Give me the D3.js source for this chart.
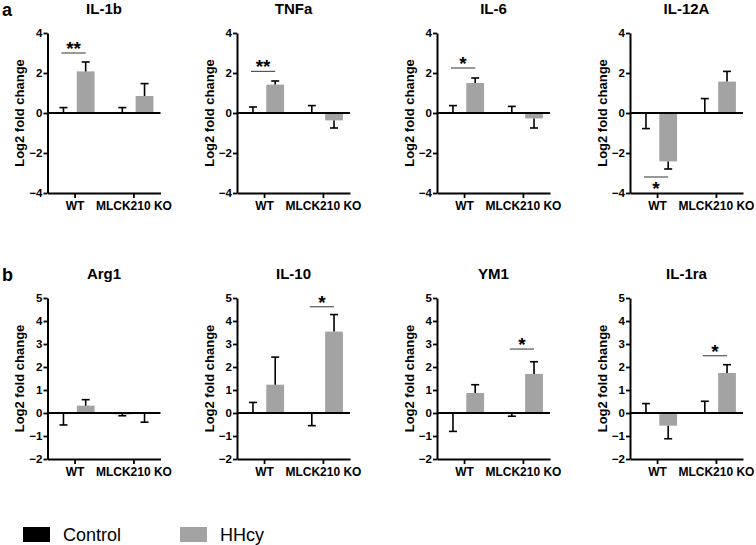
<!DOCTYPE html>
<html>
<head>
<meta charset="utf-8">
<script src="https://cdn.jsdelivr.net/npm/d3@7"></script>
<style>
  body { margin: 0; background: #fff; }
  text { font-family: "Liberation Sans", Arial, sans-serif; }
</style>
</head>
<body>
<script>
// genes, top row (a) then bottom row (b)
const genes = ["IL-1b", "TNFa", "IL-6", "IL-12A", "Arg1", "IL-10", "YM1", "IL-1ra"];
const genotypes = ["WT", "MLCK210 KO"];
const groups = ["Control", "HHcy"];

// [WT, KO] per gene, log2 fold change
const controlMean = [[0, 0], [0, 0], [0, 0], [0, 0], [0, -0.05], [0, 0], [0, -0.03], [0, 0]];
const controlErrEnd = [[0.27, 0.27], [0.3, 0.37], [0.37, 0.33], [-0.78, 0.72], [-0.52, -0.12], [0.46, -0.55], [-0.8, -0.14], [0.41, 0.51]];
const hhcyMean = [[2.08, 0.85], [1.42, -0.37], [1.5, -0.27], [-2.42, 1.57], [0.32, -0.02], [1.23, 3.54], [0.87, 1.7], [-0.55, 1.74]];
const hhcyErrEnd = [[2.55, 1.47], [1.6, -0.75], [1.75, -0.75], [-2.8, 2.08], [0.58, -0.4], [2.43, 4.28], [1.23, 2.23], [-1.12, 2.1]];

// significance marks
const sigGenotype = ["WT", "WT", "WT", "WT", null, "MLCK210 KO", "MLCK210 KO", "MLCK210 KO"];
const sigLabel = ["**", "**", "*", "*", "", "*", "*", "*"];
const sigLevel = [3.0, 2.08, 2.25, -3.2, null, 4.62, 2.78, 2.49];

const topTicks = [-4, -2, 0, 2, 4];
const bottomTicks = [-2, -1, 0, 1, 2, 3, 4, 5];

const colors = { Control: "#000000", HHcy: "#a3a3a3" };

const width = 756, height = 545;
const svg = d3.select("body").append("svg")
    .attr("width", width)
    .attr("height", height);

const panelX = [47.5, 237, 437, 630];
const W = 113;
const rows = [
    { domain: [-4, 4], top: 33, bottom: 193, ticks: topTicks, titleY: 14, letter: "a" },
    { domain: [-2, 5], top: 298, bottom: 459, ticks: bottomTicks, titleY: 279, letter: "b" }
];

const x = d3.scalePoint().domain(genotypes).range([0, W]).padding(0.46);
const inner = d3.scaleBand().domain(groups).range([-20, 20]).paddingInner(0.2);

rows.forEach((r, ri) => {
    svg.append("text")
        .attr("x", 2)
        .attr("y", r.titleY + 2)
        .style("font-weight", "bold")
        .style("font-size", "18px")
        .text(r.letter);

    for (let c = 0; c < 4; ++c) {
        const gi = ri * 4 + c;
        const y = d3.scaleLinear().domain(r.domain).range([r.bottom, r.top]);
        const g = svg.append("g").attr("transform", `translate(${panelX[c]},0)`);

        // title
        g.append("text")
            .attr("x", W / 2)
            .attr("y", r.titleY)
            .attr("text-anchor", "middle")
            .style("font-weight", "bold")
            .style("font-size", "15px")
            .text(genes[gi]);

        // y label
        g.append("text")
            .attr("transform", `translate(-28,${(r.top + r.bottom) / 2}) rotate(-90)`)
            .attr("text-anchor", "middle")
            .attr("dominant-baseline", "central")
            .style("font-weight", "bold")
            .style("font-size", "13px")
            .text("Log2 fold change");

        // bars
        const rowsData = [];
        genotypes.forEach((gt, k) => {
            rowsData.push({ gt, grp: "Control", mean: controlMean[gi][k], end: controlErrEnd[gi][k] });
            rowsData.push({ gt, grp: "HHcy", mean: hhcyMean[gi][k], end: hhcyErrEnd[gi][k] });
        });
        const cx = d => x(d.gt) + inner(d.grp) + inner.bandwidth() / 2;

        g.append("g").selectAll("rect")
            .data(rowsData)
            .join("rect")
            .attr("x", d => x(d.gt) + inner(d.grp))
            .attr("width", inner.bandwidth())
            .attr("y", d => Math.min(y(d.mean), y(0)))
            .attr("height", d => Math.abs(y(d.mean) - y(0)))
            .attr("fill", d => colors[d.grp]);

        // error bars (one-sided)
        const eb = g.append("g").attr("stroke", "#000").attr("stroke-width", 1.6).attr("fill", "none");
        eb.selectAll("line.stem")
            .data(rowsData)
            .join("line")
            .attr("class", "stem")
            .attr("x1", cx).attr("x2", cx)
            .attr("y1", d => y(d.mean)).attr("y2", d => y(d.end));
        eb.selectAll("line.cap")
            .data(rowsData)
            .join("line")
            .attr("class", "cap")
            .attr("x1", d => cx(d) - 4).attr("x2", d => cx(d) + 4)
            .attr("y1", d => y(d.end)).attr("y2", d => y(d.end));

        // axes
        const ya = g.append("g")
            .call(d3.axisLeft(y).tickValues(r.ticks).tickSize(4).tickSizeOuter(0).tickPadding(1).tickFormat(d3.format("d")));
        ya.select(".domain").attr("stroke-width", 2);
        ya.selectAll(".tick line").attr("stroke-width", 1.8);
        ya.selectAll("text")
            .style("font-weight", "bold")
            .style("font-size", "11.5px")
            .style("font-family", "'Liberation Sans', Arial, sans-serif")
            .attr("fill", "#000");

        const xa = g.append("g")
            .attr("transform", `translate(0,${r.bottom})`)
            .call(d3.axisBottom(x).tickSize(5).tickSizeOuter(0).tickPadding(3));
        xa.select(".domain").attr("stroke-width", 2);
        xa.selectAll(".tick line").attr("stroke-width", 1.8);
        xa.selectAll("text")
            .style("font-weight", "bold")
            .style("font-size", "12px")
            .style("font-family", "'Liberation Sans', Arial, sans-serif")
            .attr("fill", "#000");

        // zero line
        g.append("line")
            .attr("x1", 0).attr("x2", W)
            .attr("y1", y(0)).attr("y2", y(0))
            .attr("stroke", "#000")
            .attr("stroke-width", 2.2);

        // significance
        if (sigGenotype[gi]) {
            const sx0 = x(sigGenotype[gi]) + inner("Control") + inner.bandwidth() / 2 - 2;
            const sx1 = x(sigGenotype[gi]) + inner("HHcy") + inner.bandwidth() / 2;
            const sy = y(sigLevel[gi]);
            g.append("line")
                .attr("x1", sx0).attr("x2", sx1)
                .attr("y1", sy).attr("y2", sy)
                .attr("stroke", "#555")
                .attr("stroke-width", 1.2);
            g.append("text")
                .attr("x", (sx0 + sx1) / 2)
                .attr("y", sigLevel[gi] < 0 ? sy + 18 : sy + 2)
                .attr("text-anchor", "middle")
                .style("font-weight", "bold")
                .style("font-size", "19px")
                .text(sigLabel[gi]);
        }
    }
});

// legend
const legend = svg.append("g").attr("transform", "translate(23,527)");
const lx = d3.scalePoint().domain(groups).range([0, 157]);
legend.selectAll("rect")
    .data(groups)
    .join("rect")
    .attr("x", d => lx(d))
    .attr("y", 0)
    .attr("width", 27)
    .attr("height", 15)
    .attr("fill", d => colors[d]);
legend.selectAll("text")
    .data(groups)
    .join("text")
    .attr("x", d => lx(d) + 40)
    .attr("y", 14)
    .style("font-size", "18px")
    .text(d => d);
</script>
</body>
</html>
